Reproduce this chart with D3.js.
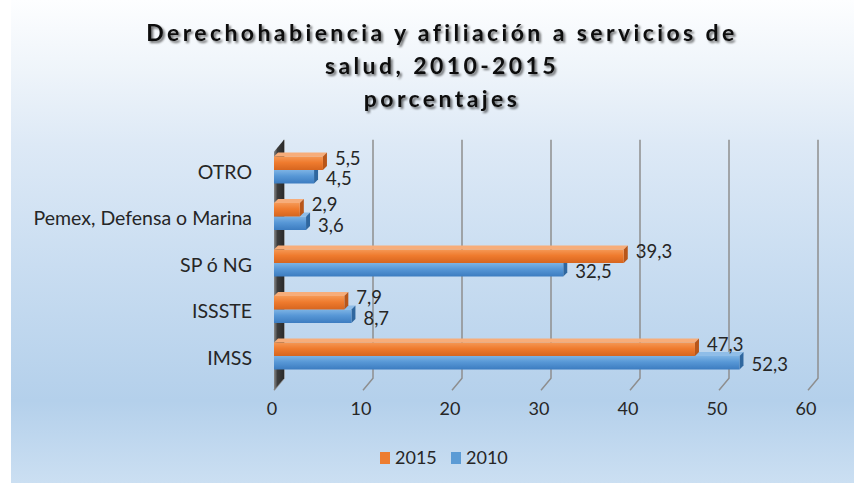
<!DOCTYPE html>
<html lang="es">
<head>
<meta charset="UTF-8">
<title>Derechohabiencia</title>
<script src="https://cdnjs.cloudflare.com/ajax/libs/d3/7.8.5/d3.min.js"></script>
<style>
  body { margin: 0; background: #fff; }
  text { font-family: Lato, "Open Sans", sans-serif; fill: #262626; }
  .title { font-weight: bold; font-size: 23px; letter-spacing: 3.4px; text-anchor: middle; fill: #111; }
</style>
</head>
<body>
<div id="chart"></div>
<script>
// datos
var categorias = ["OTRO", "Pemex, Defensa o Marina", "SP ó NG", "ISSSTE", "IMSS"];
var series = ["2015", "2010"];
var valores2015 = [5.5, 2.9, 39.3, 7.9, 47.3];
var valores2010 = [4.5, 3.6, 32.5, 8.7, 52.3];
var etiquetas2015 = ["5,5", "2,9", "39,3", "7,9", "47,3"];
var etiquetas2010 = ["4,5", "3,6", "32,5", "8,7", "52,3"];
var ticks = [0, 10, 20, 30, 40, 50, 60];
var titulo = ["Derechohabiencia y afiliación a servicios de", "salud, 2010-2015", "porcentajes"];

var W = 854, H = 483;
var depth = {dx: 10, dy: -12};   // pared del fondo
var bd = 4;                      // profundidad de la barra
var barH = 13.5;

var svg = d3.select("#chart").append("svg").attr("width", W).attr("height", H);
var defs = svg.append("defs");

var bg = defs.append("linearGradient").attr("id", "bg").attr("x1", 0).attr("y1", 0).attr("x2", 0).attr("y2", 1);
[[0, "#fdfeff"], [0.15, "#eef4fa"], [0.3, "#dde9f6"], [0.55, "#c9ddf1"], [0.83, "#b4d0eb"], [1, "#cbdff2"]]
  .forEach(function (s) { bg.append("stop").attr("offset", s[0]).attr("stop-color", s[1]); });

function grad(id, stops) {
  var g = defs.append("linearGradient").attr("id", id).attr("x1", 0).attr("y1", 0).attr("x2", 0).attr("y2", 1);
  stops.forEach(function (s) { g.append("stop").attr("offset", s[0]).attr("stop-color", s[1]); });
}
grad("gOr", [[0, "#f59855"], [0.45, "#ef7b2e"], [1, "#d6651f"]]);
grad("gBl", [[0, "#7db3e4"], [0.45, "#5797d6"], [1, "#3c7cc0"]]);

var wallG = defs.append("linearGradient").attr("id", "wall").attr("x1", 0).attr("y1", 0).attr("x2", 1).attr("y2", 0);
wallG.append("stop").attr("offset", 0).attr("stop-color", "#8a8a8a");
wallG.append("stop").attr("offset", 0.35).attr("stop-color", "#3c3c3c");
wallG.append("stop").attr("offset", 1).attr("stop-color", "#2a2a2a");

var sh = defs.append("filter").attr("id", "sh").attr("x", "-10%").attr("y", "-30%").attr("width", "120%").attr("height", "160%");
sh.append("feDropShadow").attr("dx", 2).attr("dy", 2).attr("stdDeviation", 1.3)
  .attr("flood-color", "#000").attr("flood-opacity", 0.55);

svg.append("rect").attr("x", 11).attr("y", 0).attr("width", W - 11).attr("height", H).attr("fill", "url(#bg)");

// titulo
svg.selectAll(".title").data(titulo).enter().append("text")
  .attr("class", "title")
  .attr("x", 442)
  .attr("y", function (d, i) { return 41 + i * 33; })
  .attr("filter", "url(#sh)")
  .text(function (d) { return d; });

// escalas
var x = d3.scaleLinear().domain([0, 60]).range([274, 808]);
var y = d3.scaleBand().domain(categorias).range([146.75, 379.25]);
var ySub = d3.scaleBand().domain(series).range([0, barH * 2]);
var yBottom = y.range()[1] + 11;
var yTop = y.range()[0] + 5;

// lineas de division (pared del fondo + diagonal)
var grid = svg.append("g").attr("stroke", "#8e8e8e").attr("stroke-width", 1.5).attr("fill", "none");
grid.selectAll("path").data(ticks).enter().append("path")
  .attr("d", function (d) {
    var xb = x(d) + depth.dx;
    return "M" + xb + "," + (yTop + depth.dy) + "V" + (yBottom + depth.dy) +
      "L" + x(d) + "," + yBottom;
  });

// pared izquierda
var x0 = x(0);
svg.append("path")
  .attr("d", "M" + x0 + "," + yTop + "L" + (x0 + depth.dx) + "," + (yTop + depth.dy) +
    "V" + (yBottom + depth.dy) + "L" + x0 + "," + yBottom + "Z")
  .attr("fill", "url(#wall)");

// eje x
svg.append("g").selectAll("text").data(ticks).enter().append("text")
  .attr("x", function (d) { return x(d) - 2; })
  .attr("y", yBottom + 25)
  .attr("text-anchor", "middle")
  .attr("font-size", 18)
  .text(function (d) { return d; });

// etiquetas de categoria
svg.append("g").selectAll("text").data(categorias).enter().append("text")
  .attr("x", 252)
  .attr("y", function (d) { return y(d) + y.bandwidth() / 2 + 2; })
  .attr("dy", "0.35em")
  .attr("text-anchor", "end")
  .attr("font-size", 19.5)
  .text(function (d) { return d; });

// barras
var filas = [];
categorias.forEach(function (c, i) {
  filas.push({cat: c, serie: "2010", v: valores2010[i], lab: etiquetas2010[i]});
  filas.push({cat: c, serie: "2015", v: valores2015[i], lab: etiquetas2015[i]});
});
var colores = {"2015": {front: "url(#gOr)", top: "#f7ad7a", side: "#b8561a", solid: "#ed7d31"},
               "2010": {front: "url(#gBl)", top: "#8fbde8", side: "#2f679f", solid: "#5b9bd5"}};

function by(d) { return y(d.cat) + (y.bandwidth() - barH * 2) / 2 + ySub(d.serie); }

var bar = svg.append("g").selectAll("g").data(filas).enter().append("g");
bar.append("path")
  .attr("fill", function (d) { return colores[d.serie].top; })
  .attr("d", function (d) {
    var a = x(0), b = x(d.v), t = by(d);
    return "M" + a + "," + t + "L" + (a + bd) + "," + (t - bd) + "L" + (b + bd) + "," + (t - bd) + "L" + b + "," + t + "Z";
  });
bar.append("path")
  .attr("fill", function (d) { return colores[d.serie].side; })
  .attr("d", function (d) {
    var b = x(d.v), t = by(d);
    return "M" + b + "," + t + "L" + (b + bd) + "," + (t - bd) + "V" + (t + barH - bd) + "L" + b + "," + (t + barH) + "Z";
  });
bar.append("rect")
  .attr("x", x(0))
  .attr("y", by)
  .attr("width", function (d) { return x(d.v) - x(0); })
  .attr("height", barH)
  .attr("fill", function (d) { return colores[d.serie].front; });

// etiquetas de datos
svg.append("g").selectAll("text").data(filas).enter().append("text")
  .attr("x", function (d) { return x(d.v) + 12; })
  .attr("y", function (d) { return by(d) + barH / 2 + (d.serie === "2015" ? -5 : 2); })
  .attr("dy", "0.35em")
  .attr("font-size", 18.5)
  .text(function (d) { return d.lab; });

// leyenda
var leg = svg.append("g").selectAll("g").data(series).enter().append("g")
  .attr("transform", function (d, i) { return "translate(" + (380 + i * 71) + ",452)"; });
leg.append("rect").attr("width", 10).attr("height", 12)
  .attr("fill", function (d) { return colores[d].solid; });
leg.append("text").attr("x", 15).attr("y", 6).attr("dy", "0.35em").attr("font-size", 18)
  .text(function (d) { return d; });
</script>
</body>
</html>
